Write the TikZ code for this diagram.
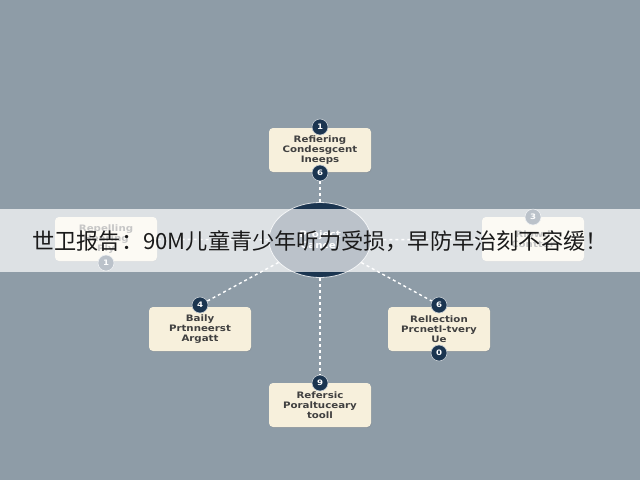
\documentclass[tikz,border=0pt]{standalone}
\usepackage{fontspec}
\setmainfont{Liberation Sans}
\newfontfamily\cjk{Noto Sans CJK SC}
\newfontfamily\boxfont[FakeStretch=1.15]{DejaVu Sans}
\usetikzlibrary{shapes.geometric,shadows}
\definecolor{bgc}{HTML}{8E9CA7}
\definecolor{navy}{HTML}{1B3550}
\definecolor{cream}{HTML}{F7F0DC}
\definecolor{boxtext}{HTML}{404040}
\definecolor{titletext}{HTML}{1A1A1A}
\begin{document}
\begin{tikzpicture}[x=1pt,y=-1pt,
  infobox/.style={fill=cream, rounded corners=4pt, minimum width=102pt, minimum height=44pt,
    inner sep=1pt, align=center, font=\boxfont\bfseries\fontsize{8.9}{9.7}\selectfont, text=boxtext,
    drop shadow={shadow xshift=0.6pt, shadow yshift=-0.9pt, opacity=0.25}},
  badge/.style={circle, fill=navy, draw=bgc!50!white, line width=0.6pt, minimum size=16pt,
    inner sep=0pt, text=white, font=\boxfont\bfseries\fontsize{7.5}{8}\selectfont},
  link/.style={draw=white, dash pattern=on 3pt off 3pt, line width=1.4pt},
  hubstyle/.style={ellipse, fill=navy, draw=white!70!bgc, line width=0.8pt, minimum width=102pt,
    minimum height=75pt, inner sep=0pt, align=center, text=white,
    font=\boxfont\bfseries\fontsize{9}{11}\selectfont}]
\fill[bgc] (0,0) rectangle (640,480);
\useasboundingbox (0,0) rectangle (640,480);

% hub
\node[hubstyle] (hub) at (320,240) {Project\\Cancel};

% boxes
\node[infobox] (top) at (320,150) {Refiering\\Condesgcent\\Ineeps};
\node[infobox] (left) at (106,239) {Repelling\\Hearing\\Ply};
\node[infobox] (right) at (533,239) {Rlowd\\Contter};
\node[infobox] (ll) at (200,329) {Baily\\Prtnneerst\\Argatt};
\node[infobox] (lr) at (439,329) {Rellection\\Prcnetl-tvery\\Ue};
\node[infobox] (bot) at (320,405) {Refersic\\Poraltuceary\\tooll};

% badges
\node[badge] (btop1) at (320,127) {1};
\node[badge] (btop2) at (320,173) {6};
\node[badge] (bleft) at (106,263) {1};
\node[badge] (bright) at (533,217) {3};
\node[badge] (bll) at (200,305) {4};
\node[badge] (blr1) at (439,305) {6};
\node[badge] (blr2) at (439,353) {0};
\node[badge] (bbot) at (320,383) {9};

% connectors
\draw[link] (btop2) -- (hub);
\draw[link] (hub) -- (bbot);
\draw[link] (hub) -- (bll);
\draw[link] (hub) -- (blr1);
\draw[link] (hub) -- (right);
\draw[link] (hub) -- (left);

% translucent band with title
\fill[white, opacity=0.7] (0,209) rectangle (640,272);
\node[font=\cjk\fontsize{22.2}{24}\selectfont, text=titletext, anchor=west, inner sep=0pt]
  (title) at (32,241) {世卫报告：90M儿童青少年听力受损，早防早治刻不容缓！};
\end{tikzpicture}
\end{document}
